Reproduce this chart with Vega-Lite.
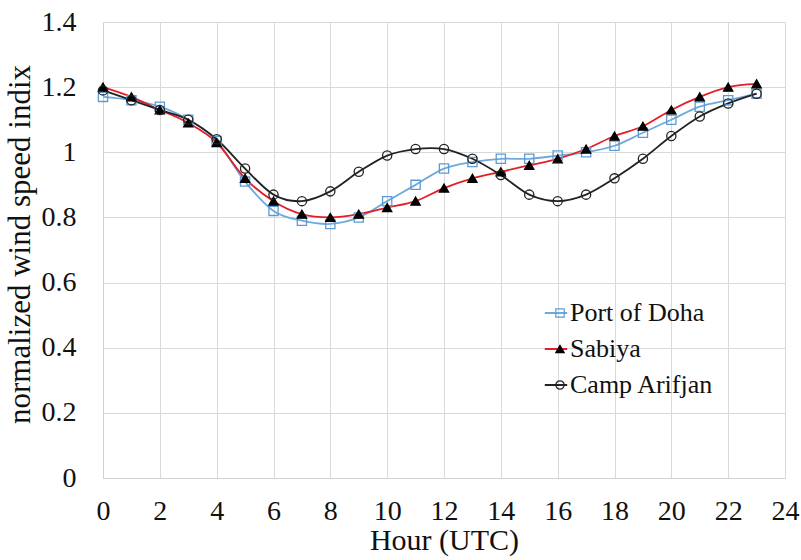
{
  "$schema": "https://vega.github.io/schema/vega-lite/v6.json",
  "autosize": "none",
  "width": 682,
  "height": 456,
  "padding": {"left": 103, "top": 22, "right": 16, "bottom": 82},
  "config": {
    "view": {"stroke": null},
    "font": "Liberation Serif",
    "axis": {
      "labelFont": "Liberation Serif",
      "titleFont": "Liberation Serif",
      "labelFontSize": 28,
      "titleFontSize": 30,
      "titleFontWeight": "normal",
      "labelColor": "#111",
      "titleColor": "#111",
      "gridColor": "#d9d9d9",
      "gridWidth": 1,
      "domainColor": "#d0d0d0",
      "ticks": false
    },
    "legend": {
      "labelFont": "Liberation Serif",
      "labelFontSize": 26,
      "labelColor": "#111"
    }
  },
  "data": {
    "values": [
      {"hour": 0, "site": "Port of Doha", "v": 1.17},
      {"hour": 1, "site": "Port of Doha", "v": 1.16},
      {"hour": 2, "site": "Port of Doha", "v": 1.14},
      {"hour": 3, "site": "Port of Doha", "v": 1.10},
      {"hour": 4, "site": "Port of Doha", "v": 1.035},
      {"hour": 5, "site": "Port of Doha", "v": 0.91},
      {"hour": 6, "site": "Port of Doha", "v": 0.82},
      {"hour": 7, "site": "Port of Doha", "v": 0.79},
      {"hour": 8, "site": "Port of Doha", "v": 0.78},
      {"hour": 9, "site": "Port of Doha", "v": 0.80},
      {"hour": 10, "site": "Port of Doha", "v": 0.85},
      {"hour": 11, "site": "Port of Doha", "v": 0.90},
      {"hour": 12, "site": "Port of Doha", "v": 0.95},
      {"hour": 13, "site": "Port of Doha", "v": 0.97},
      {"hour": 14, "site": "Port of Doha", "v": 0.98},
      {"hour": 15, "site": "Port of Doha", "v": 0.98},
      {"hour": 16, "site": "Port of Doha", "v": 0.99},
      {"hour": 17, "site": "Port of Doha", "v": 1.00},
      {"hour": 18, "site": "Port of Doha", "v": 1.02},
      {"hour": 19, "site": "Port of Doha", "v": 1.06},
      {"hour": 20, "site": "Port of Doha", "v": 1.10},
      {"hour": 21, "site": "Port of Doha", "v": 1.14},
      {"hour": 22, "site": "Port of Doha", "v": 1.16},
      {"hour": 23, "site": "Port of Doha", "v": 1.18},
      {"hour": 0, "site": "Sabiya", "v": 1.20},
      {"hour": 1, "site": "Sabiya", "v": 1.17},
      {"hour": 2, "site": "Sabiya", "v": 1.13},
      {"hour": 3, "site": "Sabiya", "v": 1.09},
      {"hour": 4, "site": "Sabiya", "v": 1.03},
      {"hour": 5, "site": "Sabiya", "v": 0.92},
      {"hour": 6, "site": "Sabiya", "v": 0.85},
      {"hour": 7, "site": "Sabiya", "v": 0.81},
      {"hour": 8, "site": "Sabiya", "v": 0.80},
      {"hour": 9, "site": "Sabiya", "v": 0.81},
      {"hour": 10, "site": "Sabiya", "v": 0.83},
      {"hour": 11, "site": "Sabiya", "v": 0.85},
      {"hour": 12, "site": "Sabiya", "v": 0.89},
      {"hour": 13, "site": "Sabiya", "v": 0.92},
      {"hour": 14, "site": "Sabiya", "v": 0.94},
      {"hour": 15, "site": "Sabiya", "v": 0.96},
      {"hour": 16, "site": "Sabiya", "v": 0.98},
      {"hour": 17, "site": "Sabiya", "v": 1.01},
      {"hour": 18, "site": "Sabiya", "v": 1.05},
      {"hour": 19, "site": "Sabiya", "v": 1.08},
      {"hour": 20, "site": "Sabiya", "v": 1.13},
      {"hour": 21, "site": "Sabiya", "v": 1.17},
      {"hour": 22, "site": "Sabiya", "v": 1.20},
      {"hour": 23, "site": "Sabiya", "v": 1.21},
      {"hour": 0, "site": "Camp Arifjan", "v": 1.19},
      {"hour": 1, "site": "Camp Arifjan", "v": 1.16},
      {"hour": 2, "site": "Camp Arifjan", "v": 1.13},
      {"hour": 3, "site": "Camp Arifjan", "v": 1.10},
      {"hour": 4, "site": "Camp Arifjan", "v": 1.04},
      {"hour": 5, "site": "Camp Arifjan", "v": 0.95},
      {"hour": 6, "site": "Camp Arifjan", "v": 0.87},
      {"hour": 7, "site": "Camp Arifjan", "v": 0.85},
      {"hour": 8, "site": "Camp Arifjan", "v": 0.88},
      {"hour": 9, "site": "Camp Arifjan", "v": 0.94},
      {"hour": 10, "site": "Camp Arifjan", "v": 0.99},
      {"hour": 11, "site": "Camp Arifjan", "v": 1.01},
      {"hour": 12, "site": "Camp Arifjan", "v": 1.01},
      {"hour": 13, "site": "Camp Arifjan", "v": 0.98},
      {"hour": 14, "site": "Camp Arifjan", "v": 0.93},
      {"hour": 15, "site": "Camp Arifjan", "v": 0.87},
      {"hour": 16, "site": "Camp Arifjan", "v": 0.85},
      {"hour": 17, "site": "Camp Arifjan", "v": 0.87},
      {"hour": 18, "site": "Camp Arifjan", "v": 0.92},
      {"hour": 19, "site": "Camp Arifjan", "v": 0.98},
      {"hour": 20, "site": "Camp Arifjan", "v": 1.05},
      {"hour": 21, "site": "Camp Arifjan", "v": 1.11},
      {"hour": 22, "site": "Camp Arifjan", "v": 1.15},
      {"hour": 23, "site": "Camp Arifjan", "v": 1.18}
    ]
  },
  "encoding": {
    "x": {
      "field": "hour",
      "type": "quantitative",
      "title": "Hour (UTC)",
      "scale": {"domain": [0, 24], "nice": false},
      "axis": {"values": [0, 2, 4, 6, 8, 10, 12, 14, 16, 18, 20, 22, 24], "labelPadding": 19, "titlePadding": 0, "labelFlush": false}
    },
    "y": {
      "field": "v",
      "type": "quantitative",
      "title": "normalized wind speed indix",
      "scale": {"domain": [0, 1.4], "nice": false},
      "axis": {"values": [0, 0.2, 0.4, 0.6, 0.8, 1, 1.2, 1.4], "format": ".1~f", "labelPadding": 27, "titlePadding": 5, "titleFontSize": 31, "titleY": 222, "labelFlush": false}
    }
  },
  "layer": [
    {
      "mark": {"type": "line", "interpolate": "cardinal", "strokeWidth": 1.8},
      "encoding": {
        "color": {
          "field": "site",
          "type": "nominal",
          "sort": ["Port of Doha", "Sabiya", "Camp Arifjan"],
          "scale": {"range": ["#6fa8dc", "#e41e26", "#222222"]},
          "legend": {
            "orient": "none",
            "legendX": 440,
            "legendY": 276,
            "title": null,
            "symbolType": "stroke",
            "symbolSize": 500,
            "symbolStrokeWidth": 2,
            "labelOffset": 1,
            "padding": 0,
            "labelFont": "Liberation Serif",
            "labelFontSize": 26,
            "labelColor": "#111",
            "clipHeight": 30,
            "rowPadding": 6
          }
        }
      }
    },
    {
      "mark": {"type": "point", "filled": false, "size": 85, "strokeWidth": 1.3, "opacity": 1},
      "encoding": {
        "shape": {
          "field": "site",
          "type": "nominal",
          "scale": {"domain": ["Port of Doha", "Sabiya", "Camp Arifjan"], "range": ["square", "triangle-up", "circle"]},
          "legend": {
            "orient": "none",
            "legendX": 444,
            "legendY": 276,
            "title": null,
            "symbolSize": 70,
            "symbolStrokeWidth": 1.2,
            "labelExpr": "''",
            "labelOffset": 0,
            "padding": 0,
            "labelFontSize": 26,
            "clipHeight": 30,
            "rowPadding": 6
          }
        },
        "fill": {
          "field": "site",
          "type": "nominal",
          "scale": {"domain": ["Port of Doha", "Sabiya", "Camp Arifjan"], "range": ["transparent", "black", "transparent"]}
        },
        "stroke": {
          "field": "site",
          "type": "nominal",
          "scale": {"domain": ["Port of Doha", "Sabiya", "Camp Arifjan"], "range": ["#5b9bd5", "black", "#222222"]}
        }
      }
    }
  ]
}
